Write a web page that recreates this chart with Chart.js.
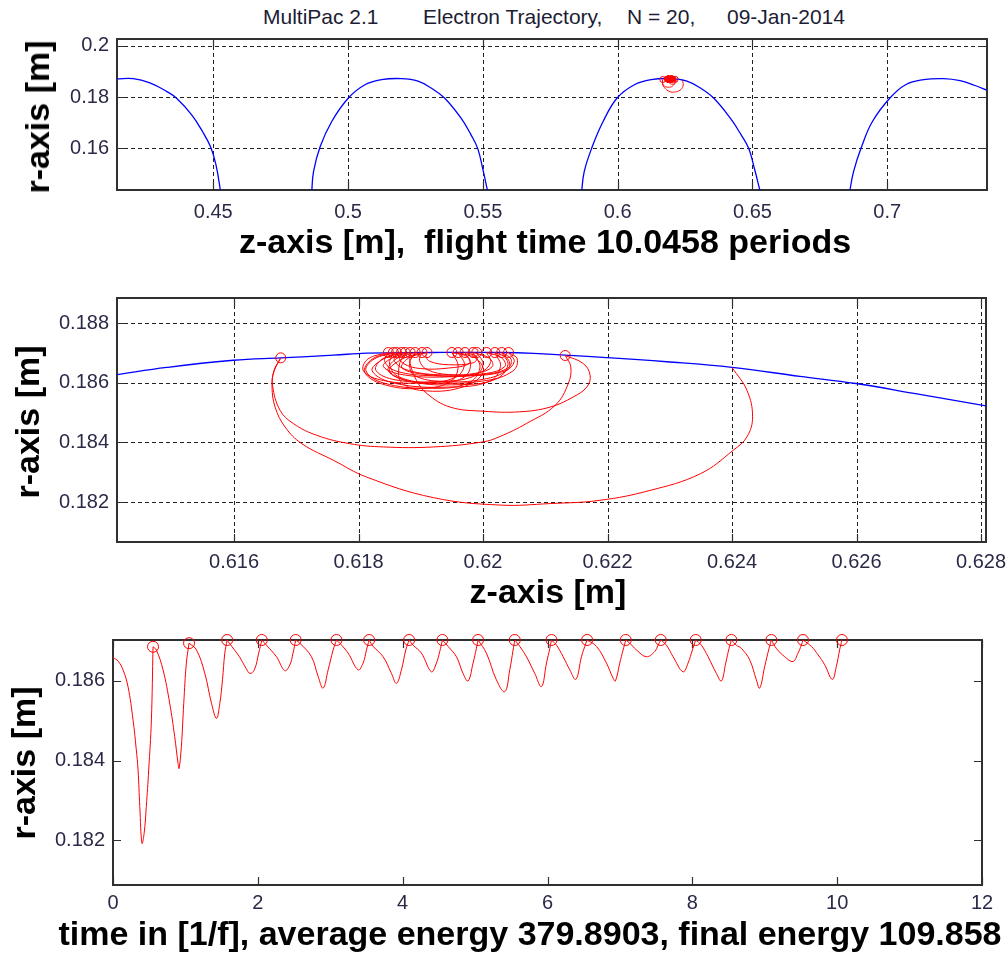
<!DOCTYPE html>
<html>
<head>
<meta charset="utf-8">
<script src="https://cdn.jsdelivr.net/npm/chart.js@4.4.0/dist/chart.umd.min.js"></script>
<style>
  body { margin: 0; background: #fff; width: 1007px; height: 953px; overflow: hidden; position: relative;
         font-family: 'Liberation Sans', Arial, sans-serif; }
  canvas { position: absolute; left: 0; }
  .ttl { position: absolute; top: 6px; white-space: pre; font-size: 21px; line-height: 21px; color: #1c1c34; }
  .xlab { position: absolute; white-space: pre; font-weight: bold; font-size: 34px; line-height: 34px; color: #000;
          transform: translate(-50%, -50%); }
  .ylab { position: absolute; white-space: pre; font-weight: bold; font-size: 34px; line-height: 34px; color: #000;
          transform: translate(-50%, -50%) rotate(-90deg); }
</style>
</head>
<body>
<span class="ttl" style="left:263px">MultiPac 2.1</span>
<span class="ttl" style="left:423px">Electron Trajectory,</span>
<span class="ttl" style="left:627px">N = 20,</span>
<span class="ttl" style="left:727px">09-Jan-2014</span>

<canvas id="c1" width="1007" height="201"></canvas>
<canvas id="c2" width="1007" height="294"></canvas>
<canvas id="c3" width="1007" height="295"></canvas>

<div class="ylab" style="left:37px;top:117px">r-axis [m]</div>
<div class="xlab" style="left:545px;top:241px">z-axis [m],  flight time 10.0458 periods</div>
<div class="ylab" style="left:27px;top:422px">r-axis [m]</div>
<div class="xlab" style="left:548px;top:591px">z-axis [m]</div>
<div class="ylab" style="left:23px;top:763px">r-axis [m]</div>
<div class="xlab" style="left:530px;top:933px">time in [1/f], average energy 379.8903, final energy 109.858</div>

<script>
// tick labels
const zTicksTop = [0.45, 0.5, 0.55, 0.6, 0.65, 0.7];
const rTicksTop = [0.16, 0.18, 0.2];
const zTicksMid = [0.616, 0.618, 0.62, 0.622, 0.624, 0.626, 0.628];
const rTicksMid = [0.182, 0.184, 0.186, 0.188];
const tTicks = [0, 2, 4, 6, 8, 10, 12];
const rTicksBot = [0.182, 0.184, 0.186];

// cavity wall, full view [z, r]
const wallArc1 = [[0.41428,0.1871],[0.4203,0.1872],[0.4265,0.1855],[0.4327,0.1822],[0.4364,0.1795],[0.4420,0.1730],
  [0.4460,0.1665],[0.4490,0.1605],[0.4510,0.1535],[0.4528,0.1425]];
const wallArc2 = [[0.4865,0.1425],[0.4872,0.1508],[0.48967,0.1606],[0.49395,0.1704],[0.50011,0.1796],[0.50627,0.1848],
  [0.5124,0.1868],[0.5198,0.1872],[0.52594,0.1862],[0.53085,0.1835],[0.53579,0.1796],[0.54192,0.1717],[0.54561,0.1652],
  [0.54808,0.1599],[0.54993,0.1521],[0.5519,0.1425]];
const wallArc3 = [[0.5866,0.1425],[0.5876,0.1508],[0.5906,0.1606],[0.5946,0.1704],[0.5998,0.1796],[0.6062,0.1848],
  [0.6125,0.1868],[0.6196,0.1872],[0.6257,0.1862],[0.6307,0.1835],[0.6356,0.1796],[0.6418,0.1717],[0.6458,0.1652],
  [0.6486,0.1599],[0.6507,0.1521],[0.6530,0.1425]];
const wallArc4 = [[0.6860,0.1425],[0.6875,0.1508],[0.6905,0.1606],[0.6945,0.1704],[0.7010,0.1796],[0.7068,0.1848],
  [0.7135,0.1868],[0.7209,0.1872],[0.7270,0.1864],[0.7325,0.1845],[0.7372,0.1826]];

// cavity wall, zoomed view [z, r]
const wallZoom = [[0.61412,0.18628],[0.61492,0.18652],[0.61599,0.18676],[0.61675,0.18684],[0.61760,0.18693],
  [0.61813,0.18700],[0.61920,0.18702],[0.62027,0.18702],[0.62081,0.18699],[0.62199,0.18685],[0.62295,0.18671],
  [0.62400,0.18652],[0.62509,0.18622],[0.62599,0.18598],[0.62697,0.18563],[0.62808,0.18523]];

// electron flights between impacts [z, r]
const flightsZR = [
  [[0.62400,0.18652],[0.62424,0.18575],[0.62433,0.18486],[0.62424,0.18419],[0.62402,0.18374],[0.62349,0.18295],
   [0.62268,0.18239],[0.62188,0.18206],[0.62108,0.18195],[0.62027,0.18190],[0.61920,0.18215],[0.61813,0.18284],
   [0.61760,0.18340],[0.61709,0.18396],[0.61682,0.18452],[0.61666,0.18519],[0.61661,0.18587],[0.61664,0.18637],
   [0.61675,0.18684]],
  [[0.61675,0.18684],[0.61664,0.18640],[0.61662,0.18590],[0.61674,0.18508],[0.61695,0.18464],[0.61733,0.18424],
   [0.61786,0.18396],[0.61840,0.18385],[0.61920,0.18385],[0.62000,0.18402],[0.62027,0.18420],[0.62070,0.18464],
   [0.62116,0.18525],[0.62137,0.18598],[0.62141,0.18654],[0.62132,0.18692]],
  [[0.62132,0.18692],[0.62161,0.18665],[0.62172,0.18626],[0.62167,0.18587],[0.62145,0.18553],[0.62108,0.18519],
   [0.62059,0.18503],[0.62000,0.18505],[0.61947,0.18519],[0.61910,0.18564],[0.61893,0.18609],[0.61883,0.18665],
   [0.61883,0.18702]],
  [[0.61883,0.18702],[0.61855,0.18685],[0.61840,0.18655],[0.61870,0.18628],[0.61940,0.18620],[0.61995,0.18635],[0.62012,0.18668],[0.62006,0.18702]],
  [[0.62006,0.18702],[0.62030,0.18684],[0.62035,0.18655],[0.62005,0.18632],[0.61935,0.18627],[0.61880,0.18642],[0.61858,0.18672],[0.61861,0.18702]],
  [[0.61861,0.18702],[0.61825,0.18680],[0.61812,0.18640],[0.61840,0.18600],[0.61910,0.18582],[0.61975,0.18598],[0.61995,0.18650],[0.61984,0.18702]],
  [[0.61984,0.18702],[0.62010,0.18683],[0.62015,0.18655],[0.61990,0.18633],[0.61945,0.18628],[0.61910,0.18645],[0.61898,0.18675],[0.61902,0.18702]],
  [[0.61902,0.18702],[0.61870,0.18680],[0.61850,0.18640],[0.61885,0.18604],[0.61960,0.18594],[0.62020,0.18612],[0.62040,0.18660],[0.62030,0.18702]],
  [[0.62030,0.18702],[0.62045,0.18680],[0.62040,0.18650],[0.62000,0.18628],[0.61920,0.18624],[0.61860,0.18640],[0.61842,0.18672],[0.61848,0.18702]],
  [[0.61848,0.18702],[0.61815,0.18680],[0.61808,0.18640],[0.61840,0.18608],[0.61905,0.18600],[0.61955,0.18618],[0.61970,0.18660],[0.61960,0.18702]],
  [[0.61960,0.18702],[0.61990,0.18680],[0.62000,0.18635],[0.61970,0.18588],[0.61910,0.18573],[0.61870,0.18600],[0.61865,0.18655],[0.61875,0.18702]],
  [[0.61875,0.18702],[0.61840,0.18680],[0.61822,0.18640],[0.61860,0.18598],[0.61945,0.18586],[0.62010,0.18605],[0.62028,0.18655],[0.62019,0.18702]],
  [[0.62019,0.18702],[0.62040,0.18680],[0.62040,0.18645],[0.62000,0.18612],[0.61935,0.18605],[0.61890,0.18625],[0.61882,0.18665],[0.61891,0.18702]],
  [[0.61891,0.18702],[0.61860,0.18680],[0.61848,0.18640],[0.61880,0.18607],[0.61935,0.18600],[0.61970,0.18620],[0.61980,0.18662],[0.61971,0.18702]],
  [[0.61971,0.18702],[0.61990,0.18688],[0.61985,0.18668],[0.61945,0.18661],[0.61915,0.18672],[0.61908,0.18690],[0.61910,0.18702]],
  [[0.61910,0.18702],[0.61880,0.18683],[0.61870,0.18650],[0.61910,0.18628],[0.61980,0.18624],[0.62035,0.18640],[0.62050,0.18672],[0.62041,0.18702]],
  [[0.62041,0.18702],[0.62055,0.18680],[0.62048,0.18640],[0.62005,0.18608],[0.61920,0.18600],[0.61865,0.18620],[0.61850,0.18662],[0.61856,0.18702]],
  [[0.61856,0.18702],[0.61822,0.18680],[0.61810,0.18635],[0.61845,0.18592],[0.61905,0.18582],[0.61948,0.18605],[0.61960,0.18655],[0.61950,0.18702]],
  [[0.61950,0.18702],[0.61975,0.18688],[0.61978,0.18665],[0.61945,0.18650],[0.61900,0.18648],[0.61872,0.18665],[0.61865,0.18688],[0.61869,0.18702]],
  [[0.61869,0.18702],[0.61838,0.18680],[0.61828,0.18642],[0.61860,0.18610],[0.61930,0.18605],[0.61985,0.18622],[0.62000,0.18662],[0.61990,0.18702]]
];
const impactsZR = [[0.61675,0.18684],[0.62132,0.18692],[0.61883,0.18702],[0.62006,0.18702],[0.61861,0.18702],
  [0.61984,0.18702],[0.61902,0.18702],[0.62030,0.18702],[0.61848,0.18702],[0.61960,0.18702],[0.61875,0.18702],
  [0.62019,0.18702],[0.61891,0.18702],[0.61971,0.18702],[0.61910,0.18702],[0.62041,0.18702],[0.61856,0.18702],
  [0.61950,0.18702],[0.61869,0.18702],[0.61990,0.18702]];

// r against time, flight by flight [t, r]
const flightsTR = [
  [[0,0.18659],[0.07,0.18650],[0.138,0.18628],[0.207,0.18586],[0.277,0.18502],[0.32,0.18430],[0.346,0.18376],
   [0.37,0.18284],[0.40,0.18192],[0.43,0.18217],[0.46,0.18284],[0.493,0.18376],[0.53,0.18502],[0.553,0.18686]],
  [[0.553,0.18686],[0.599,0.18678],[0.691,0.18628],[0.783,0.18544],[0.852,0.18460],[0.898,0.18393],[0.912,0.18380],
   [0.944,0.18435],[0.977,0.18544],[1.013,0.18645],[1.05,0.18695]],
  [[1.05,0.18695],[1.153,0.18678],[1.268,0.18619],[1.36,0.18544],[1.429,0.18506],[1.475,0.18544],[1.512,0.18603],
   [1.544,0.18670],[1.576,0.18703]],
  [[1.576,0.18703],[1.607,0.18695],[1.745,0.18661],[1.837,0.18632],[1.892,0.18619],[1.952,0.18628],[2.012,0.18670],[2.055,0.18703]],
  [[2.055,0.18703],[2.118,0.18690],[2.257,0.18661],[2.372,0.18626],[2.441,0.18640],[2.486,0.18670],[2.523,0.18703]],
  [[2.523,0.18703],[2.58,0.18695],[2.74,0.18661],[2.833,0.18611],[2.902,0.18582],[2.971,0.18628],[3.04,0.18678],[3.086,0.18703]],
  [[3.086,0.18703],[3.132,0.18695],[3.247,0.18670],[3.385,0.18628],[3.454,0.18645],[3.5,0.18678],[3.537,0.18703]],
  [[3.537,0.18703],[3.592,0.18687],[3.73,0.18661],[3.845,0.18619],[3.914,0.18594],[3.983,0.18628],[4.043,0.18678],[4.089,0.18703]],
  [[4.089,0.18703],[4.144,0.18690],[4.259,0.18670],[4.397,0.18623],[4.466,0.18645],[4.512,0.18674],[4.549,0.18703]],
  [[4.549,0.18703],[4.627,0.18687],[4.742,0.18661],[4.834,0.18619],[4.903,0.18600],[4.972,0.18645],[5.018,0.18682],[5.041,0.18703]],
  [[5.041,0.18703],[5.156,0.18670],[5.294,0.18603],[5.41,0.18573],[5.479,0.18628],[5.525,0.18678],[5.548,0.18703]],
  [[5.548,0.18703],[5.617,0.18687],[5.709,0.18661],[5.824,0.18619],[5.917,0.18586],[5.986,0.18645],[6.032,0.18682],[6.055,0.18703]],
  [[6.055,0.18703],[6.124,0.18690],[6.216,0.18661],[6.308,0.18628],[6.391,0.18604],[6.469,0.18661],[6.515,0.18687],[6.547,0.18703]],
  [[6.547,0.18703],[6.676,0.18687],[6.814,0.18645],[6.906,0.18607],[6.938,0.18600],[6.998,0.18645],[7.044,0.18678],[7.081,0.18703]],
  [[7.081,0.18703],[7.136,0.18695],[7.228,0.18678],[7.366,0.18661],[7.481,0.18674],[7.527,0.18690],[7.564,0.18703]],
  [[7.564,0.18703],[7.642,0.18690],[7.734,0.18661],[7.872,0.18623],[7.941,0.18645],[8.001,0.18678],[8.047,0.18703]],
  [[8.047,0.18703],[8.125,0.18690],[8.217,0.18661],[8.332,0.18619],[8.401,0.18600],[8.461,0.18645],[8.507,0.18682],[8.539,0.18703]],
  [[8.539,0.18703],[8.608,0.18690],[8.677,0.18682],[8.792,0.18653],[8.884,0.18603],[8.93,0.18582],[8.999,0.18636],[9.059,0.18682],[9.091,0.18703]],
  [[9.091,0.18703],[9.16,0.18682],[9.275,0.18661],[9.39,0.18649],[9.459,0.18670],[9.505,0.18690],[9.528,0.18703]],
  [[9.528,0.18703],[9.643,0.18687],[9.735,0.18666],[9.827,0.18641],[9.933,0.18604],[9.988,0.18636],[10.034,0.18678],[10.066,0.18703]]
];
const impactT = [0.553, 1.05, 1.576, 2.055, 2.523, 3.086, 3.537, 4.089, 4.549, 5.041, 5.548, 6.055, 6.547, 7.081,
  7.564, 8.047, 8.539, 9.091, 9.528, 10.066];
const impactR = [0.18686, 0.18695, 0.18703, 0.18703, 0.18703, 0.18703, 0.18703, 0.18703, 0.18703, 0.18703,
  0.18703, 0.18703, 0.18703, 0.18703, 0.18703, 0.18703, 0.18703, 0.18703, 0.18703, 0.18703];

const RED = 'rgb(255,0,0)';
const BLUE = 'rgb(0,0,255)';
const tickFont = { family: "'Liberation Sans', Arial, sans-serif", size: 20 };
const tickColor = '#2a2a48';

function pts(list) { return list.map(p => ({ x: p[0], y: p[1] })); }

function curve(list, color, width) {
  return { data: pts(list), showLine: true, borderColor: color, borderWidth: width, pointRadius: 0, tension: 0.4, fill: false };
}

function rings(list, radius) {
  return { data: pts(list), showLine: false, pointStyle: 'circle', pointRadius: radius, borderColor: RED,
           borderWidth: 1, backgroundColor: 'rgba(0,0,0,0)', clip: false };
}

// box, inward ticks and dashed grid, MATLAB style
const frame = {
  id: 'frame',
  beforeDatasetsDraw(chart, args, opts) {
    const { ctx, chartArea: a, scales } = chart;
    const xs = scales.x.ticks.map(t => Math.round(scales.x.getPixelForValue(t.value)) + 0.5);
    const ys = scales.y.ticks.map(t => Math.round(scales.y.getPixelForValue(t.value)) + 0.5);
    ctx.save();
    if (opts.grid) {
      ctx.strokeStyle = '#202020';
      ctx.lineWidth = 1;
      ctx.setLineDash([4, 3]);
      ctx.beginPath();
      xs.forEach(x => { ctx.moveTo(x, a.top); ctx.lineTo(x, a.bottom); });
      ys.forEach(y => { ctx.moveTo(a.left, y); ctx.lineTo(a.right, y); });
      ctx.stroke();
      ctx.setLineDash([]);
    }
    ctx.strokeStyle = '#303030';
    ctx.lineWidth = 1.2;
    ctx.beginPath();
    xs.forEach(x => { ctx.moveTo(x, a.bottom); ctx.lineTo(x, a.bottom - 8); ctx.moveTo(x, a.top); ctx.lineTo(x, a.top + 8); });
    ys.forEach(y => { ctx.moveTo(a.left, y); ctx.lineTo(a.left + 8, y); ctx.moveTo(a.right, y); ctx.lineTo(a.right - 8, y); });
    ctx.stroke();
    ctx.lineWidth = 2;
    ctx.strokeRect(a.left, a.top, a.right - a.left, a.bottom - a.top);
    ctx.restore();
  }
};

function panel(id, area, xr, yr, xTicks, yTicks, grid, xPad, datasets) {
  const cv = document.getElementById(id);
  cv.style.top = (area.t - 10) + 'px';
  cv.height = area.b - area.t + 50;
  return new Chart(cv, {
    type: 'scatter',
    data: { datasets: datasets },
    options: {
      responsive: false,
      animation: false,
      events: [],
      layout: { padding: { top: 10, left: 0, right: 1007 - area.r, bottom: 0 } },
      plugins: { legend: { display: false }, tooltip: { enabled: false }, frame: { grid: grid } },
      scales: {
        x: {
          type: 'linear', min: xr[0], max: xr[1],
          grid: { display: false, drawTicks: false }, border: { display: false },
          afterBuildTicks: s => { s.ticks = xTicks.map(v => ({ value: v })); },
          afterFit: s => { s.height = 40; s.paddingLeft = 0; s.paddingRight = 0; },
          ticks: { font: tickFont, color: tickColor, padding: xPad, maxRotation: 0, autoSkip: false, callback: v => String(v) }
        },
        y: {
          type: 'linear', min: yr[0], max: yr[1],
          grid: { display: false, drawTicks: false }, border: { display: false },
          afterBuildTicks: s => { s.ticks = yTicks.map(v => ({ value: v })); },
          afterFit: s => { s.width = area.l; s.paddingTop = 0; s.paddingBottom = 0; },
          ticks: { font: tickFont, color: tickColor, padding: 8, autoSkip: false, callback: v => String(v) }
        }
      }
    },
    plugins: [frame]
  });
}

// top: whole cavity
panel('c1', { l: 117, r: 987, t: 39, b: 190 }, [0.4143, 0.7370], [0.1436, 0.2027], zTicksTop, rTicksTop, true, 10,
  [rings(impactsZR, 3)]
    .concat(flightsZR.map(f => curve(f, RED, 1)))
    .concat([wallArc1, wallArc2, wallArc3, wallArc4].map(w => curve(w, BLUE, 1.3))));

// middle: zoom on the impact region
panel('c2', { l: 117, r: 986, t: 298, b: 542 }, [0.61412, 0.62808], [0.18066, 0.18885], zTicksMid, rTicksMid, true, 8,
  [rings(impactsZR, 5)]
    .concat(flightsZR.map(f => curve(f, RED, 1)))
    .concat([curve(wallZoom, BLUE, 1.3)]));

// bottom: r against time
panel('c3', { l: 113, r: 982, t: 640, b: 885 }, [0, 12], [0.18087, 0.18703], tTicks, rTicksBot, false, 6,
  [rings(impactT.map((t, i) => [t, impactR[i]]), 5.5)]
    .concat(flightsTR.map(f => curve(f, RED, 1))));
</script>
</body>
</html>
